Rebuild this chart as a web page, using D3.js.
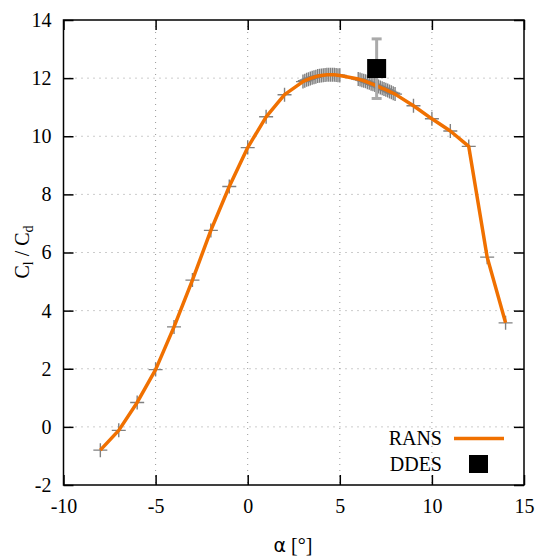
<!DOCTYPE html>
<html><head><meta charset="utf-8">
<script src="https://cdn.jsdelivr.net/npm/d3@7"></script>
<style>body{margin:0;background:#fff}svg{display:block}
.serif, .serif text{font-family:"Liberation Serif","Times New Roman",serif !important;}
</style>
</head><body>
<script>
const ransAlpha = [-8,-7,-6,-5,-4,-3,-2,-1,0,1,2,
  3.0,3.1,3.2,3.3,3.4,3.5,3.6,3.7,3.8,3.9,4.0,4.1,4.2,4.3,4.4,4.5,4.6,4.7,4.8,4.9,5.0,
  6.0,6.1,6.2,6.3,6.4,6.5,6.6,6.7,6.8,6.9,7.0,7.1,7.2,7.3,7.4,7.5,7.6,7.7,7.8,7.9,8.0,
  9,10,11,12,13,14];
const ransClCd = [-0.8,-0.12,0.84,1.97,3.44,5.05,6.76,8.27,9.61,10.67,11.43,
  11.88,11.91,11.94,11.96,11.99,12.01,12.03,12.05,12.07,12.08,12.09,12.10,12.11,12.12,12.12,12.12,12.12,12.12,12.11,12.10,12.09,
  11.97,11.95,11.93,11.91,11.89,11.86,11.84,11.81,11.79,11.76,11.73,11.71,11.68,11.65,11.63,11.60,11.57,11.54,11.51,11.48,11.45,
  11.05,10.6,10.18,9.65,5.84,3.58];
const ddesAlpha = [7];
const ddesClCd = [12.33];
const ddesErrLow = [11.3];
const ddesErrHigh = [13.35];
const xTicks = [-10,-5,0,5,10,15];
const yTicks = [-2,0,2,4,6,8,10,12,14];

const W=541,H=558;
const L=63.5,R=524,T=20,B=485;
const svg=d3.select("body").append("svg").attr("width",W).attr("height",H);
const x=d3.scaleLinear().domain([-10,15]).range([L,R]);
const y=d3.scaleLinear().domain([-2,14]).range([B,T]);
const serif="'Liberation Serif','Times New Roman',serif";
const fmt=d=>String(d);

// grid
const g=svg.append("g");
g.selectAll(".gx").data(xTicks.slice(1,-1)).enter().append("line")
  .attr("x1",d=>x(d)).attr("x2",d=>x(d)).attr("y1",T).attr("y2",B)
  .attr("stroke","#999").attr("stroke-width",1).attr("stroke-dasharray","1,5");
g.selectAll(".gy").data(yTicks.slice(1,-1)).enter().append("line")
  .attr("y1",d=>y(d)).attr("y2",d=>y(d)).attr("x1",L).attr("x2",R)
  .attr("stroke","#999").attr("stroke-width",1).attr("stroke-dasharray","1,5");

// axes
const ax=d3.axisBottom(x).tickValues(xTicks).tickSize(-10).tickPadding(14).tickFormat(fmt);
const ay=d3.axisLeft(y).tickValues(yTicks).tickSize(-10).tickPadding(12).tickFormat(fmt);
const axT=d3.axisTop(x).tickValues(xTicks).tickSize(-10).tickFormat("");
const ayR=d3.axisRight(y).tickValues(yTicks).tickSize(-10).tickFormat("");
function style(sel){
  sel.attr("class","serif").attr("font-family",serif).attr("font-size",20);
  sel.select(".domain").remove();
  sel.selectAll(".tick line").attr("stroke","#000").attr("stroke-width",1.5);
  sel.selectAll(".tick text").attr("font-family",serif).attr("font-size",20).attr("fill","#000");
}
svg.append("g").attr("transform",`translate(0,${B})`).call(ax).call(style);
svg.append("g").attr("transform",`translate(${L},0)`).call(ay).call(style);
svg.append("g").attr("transform",`translate(0,${T})`).call(axT).call(style);
svg.append("g").attr("transform",`translate(${R},0)`).call(ayR).call(style);

// RANS crosses
const pts=ransAlpha.map((a,i)=>[a,ransClCd[i]]);
const cs=7;
svg.append("g").selectAll("path.cross").data(pts).enter().append("path")
  .attr("d",d=>`M${x(d[0])-cs},${y(d[1])}H${x(d[0])+cs}M${x(d[0])},${y(d[1])-cs}V${y(d[1])+cs}`)
  .attr("stroke","#808080").attr("stroke-width",1.4).attr("fill","none");

// RANS line
svg.append("path").datum(pts)
  .attr("d",d3.line().x(d=>x(d[0])).y(d=>y(d[1])))
  .attr("fill","none").attr("stroke","#f07000").attr("stroke-width",3.5).attr("stroke-linejoin","round");

// DDES error bar + square
const dd=ddesAlpha.map((a,i)=>({a,v:ddesClCd[i],lo:ddesErrLow[i],hi:ddesErrHigh[i]}));
const eb=svg.append("g").selectAll("g").data(dd).enter().append("g");
eb.append("line").attr("x1",d=>x(d.a)).attr("x2",d=>x(d.a)).attr("y1",d=>y(d.lo)).attr("y2",d=>y(d.hi))
  .attr("stroke","#aaa").attr("stroke-width",3);
eb.append("line").attr("x1",d=>x(d.a)-5).attr("x2",d=>x(d.a)+5).attr("y1",d=>y(d.lo)).attr("y2",d=>y(d.lo))
  .attr("stroke","#aaa").attr("stroke-width",3);
eb.append("line").attr("x1",d=>x(d.a)-5).attr("x2",d=>x(d.a)+5).attr("y1",d=>y(d.hi)).attr("y2",d=>y(d.hi))
  .attr("stroke","#aaa").attr("stroke-width",3);
const sq=19;
eb.append("rect").attr("x",d=>x(d.a)-sq/2).attr("y",d=>y(d.v)-sq/2).attr("width",sq).attr("height",sq).attr("fill","#000");

// frame
svg.append("rect").attr("x",L).attr("y",T).attr("width",R-L).attr("height",B-T)
  .attr("fill","none").attr("stroke","#000").attr("stroke-width",1.5);

// legend
const lg=svg.append("g").attr("class","serif").attr("font-family",serif).attr("font-size",20);
lg.append("text").attr("x",442).attr("y",445).attr("text-anchor","end").text("RANS");
lg.append("line").attr("x1",454).attr("x2",504).attr("y1",438.5).attr("y2",438.5).attr("stroke","#f07000").attr("stroke-width",3.5);
lg.append("text").attr("x",442).attr("y",471).attr("text-anchor","end").text("DDES");
lg.append("rect").attr("x",469).attr("y",455).attr("width",19).attr("height",18).attr("fill","#000");

// axis labels
const yl=svg.append("text").attr("class","serif").attr("font-family",serif).attr("font-size",20).attr("text-anchor","middle")
  .attr("transform",`translate(29,252) rotate(-90)`);
yl.append("tspan").text("C");
yl.append("tspan").attr("font-size",14).attr("dy",4).text("l");
yl.append("tspan").attr("dy",-4).text(" / C");
yl.append("tspan").attr("font-size",14).attr("dy",4).text("d");

const xl=svg.append("text").attr("x",293).attr("y",552).attr("text-anchor","middle").attr("font-size",20);
xl.append("tspan").attr("font-family","'DejaVu Sans',sans-serif").attr("font-size",19).text("α");
xl.append("tspan").attr("class","serif").attr("font-family",serif).text(" [°]");
</script>
</body></html>
